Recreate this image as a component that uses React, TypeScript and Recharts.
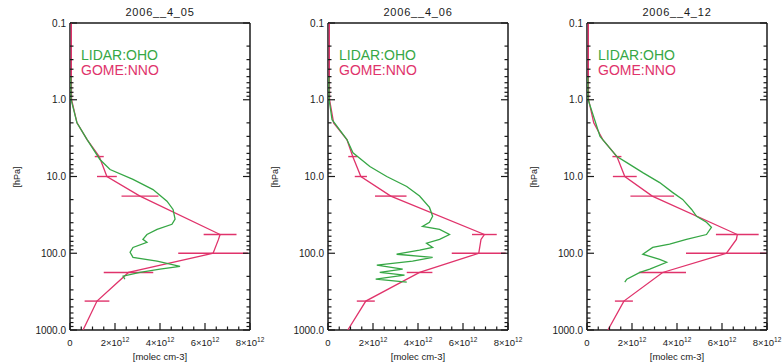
import { ScatterChart, Scatter, XAxis, YAxis, ErrorBar } from 'recharts';

const FONT = '"Liberation Sans", Arial, sans-serif';
const RED = '#e0336b';
const GREEN = '#36a745';
const INK = '#1a1a1a';

const TITLES = ['2006__4_05', '2006__4_06', '2006__4_12'];
const LEGEND_LIDAR = 'LIDAR:OHO';
const LEGEND_GOME = 'GOME:NNO';

// number density in units of 10^12 molec cm-3, pressure in hPa
const X_MAJOR = [0, 2, 4, 6, 8];
const X_MINOR = [0.5, 1, 1.5, 2.5, 3, 3.5, 4.5, 5, 5.5, 6.5, 7, 7.5];
const Y_MAJOR = [0.1, 1, 10, 100, 1000];
const Y_MINOR = [0.1, 1, 10, 100].flatMap((d) => [2, 3, 4, 5, 6, 7, 8, 9].map((k) => +(d * k).toPrecision(3)));

const GOME_P = [0.1, 0.5, 1.0, 2.0, 3.3, 5.5, 10, 18, 57, 66, 100, 178, 420, 1000];

const GOME_0405 = [0.06, 0.06, 0.07, 0.31, 0.76, 1.3, 1.64, 3.11, 6.67, 6.6, 6.36, 2.6, 1.2, 0.58];
const GOME_0405_ERR = [0, 0, 0, 0, 0, 0.2, 0.44, 0.82, 0.73, 0, 1.55, 1.1, 0.55, 0];
const GOME_0406 = [0.06, 0.06, 0.07, 0.25, 0.84, 1.1, 1.46, 2.79, 6.95, 6.8, 6.7, 4.07, 1.68, 0.88];
const GOME_0406_ERR = [0, 0, 0, 0, 0, 0.2, 0.27, 0.7, 0.55, 0, 1.2, 0.57, 0.4, 0];
const GOME_0412 = [0.06, 0.06, 0.07, 0.3, 0.7, 1.33, 1.68, 2.9, 6.68, 6.64, 6.2, 3.36, 1.64, 0.93];
const GOME_0412_ERR = [0, 0, 0, 0, 0, 0.2, 0.53, 0.97, 0.95, 0, 1.8, 1.04, 0.4, 0];

const LIDAR_0405_P = [0.5, 1.0, 2.0, 3.3, 6.0, 8.1, 10.9, 14.8, 21, 26.9, 36, 42, 49, 57, 66, 72, 84, 97, 113, 127, 148, 161, 177, 199, 218];
const LIDAR_0405 = [0.04, 0.05, 0.31, 0.76, 1.33, 1.78, 2.8, 3.69, 4.31, 4.58, 4.67, 4.53, 3.87, 3.42, 3.24, 3.42, 2.8, 2.67, 2.8, 3.87, 4.89, 4.0, 3.11, 2.36, 2.44];

const LIDAR_0406_P = [0.5, 1.0, 1.82, 3.3, 4.9, 7.4, 10, 13.5, 18, 25.3, 33, 39.5, 44.6, 49, 57, 66, 74, 84, 91, 103, 113, 127, 143, 161, 177, 193, 218, 238];
const LIDAR_0406 = [0.04, 0.05, 0.18, 0.84, 1.11, 1.86, 2.61, 3.5, 4.07, 4.51, 4.65, 4.51, 4.2, 4.96, 5.4, 4.96, 4.38, 4.65, 4.07, 3.05, 4.65, 3.76, 2.17, 3.32, 2.3, 3.4, 2.12, 3.5];

const LIDAR_0412_P = [0.5, 1.0, 3.0, 5.5, 6.6, 8.9, 12, 16.1, 19.9, 26.9, 33, 39.5, 46, 57, 66, 76, 84, 103, 120, 131, 161, 178, 218, 238];
const LIDAR_0412 = [0.04, 0.05, 0.58, 1.33, 1.77, 2.48, 3.23, 3.8, 4.25, 4.65, 4.87, 5.31, 5.53, 5.31, 4.42, 3.67, 2.92, 2.48, 3.23, 3.54, 2.79, 2.35, 1.77, 1.68];

const PANEL_LEFT = [0, 258, 517];

const X_TICKS = [...X_MAJOR, ...X_MINOR].sort((a, b) => a - b);
const Y_TICKS = [...Y_MAJOR, ...Y_MINOR].sort((a, b) => a - b);

const NoDot = () => <g />;

function LeftTick({ x, y, payload }: any) {
  const major = Y_MAJOR.includes(payload.value);
  return (
    <g>
      <line x1={x} x2={x + (major ? 7 : 3.5)} y1={y} y2={y} stroke={INK} strokeWidth={1.2} />
      {major && (
        <text x={x - 4} y={y + 3.5} textAnchor="end" fontSize={10} fill={INK} fontFamily={FONT}>
          {payload.value.toFixed(1)}
        </text>
      )}
    </g>
  );
}

function RightTick({ x, y, payload }: any) {
  const major = Y_MAJOR.includes(payload.value);
  return <line x1={x} x2={x - (major ? 7 : 3.5)} y1={y} y2={y} stroke={INK} strokeWidth={1.2} />;
}

function BottomTick({ x, y, payload }: any) {
  const v = payload.value;
  const major = X_MAJOR.includes(v);
  return (
    <g>
      <line x1={x} x2={x} y1={y} y2={y - (major ? 7 : 3.5)} stroke={INK} strokeWidth={1.2} />
      {major && (
        <text x={x} y={y + 16} textAnchor="middle" fontSize={9.5} fill={INK} fontFamily={FONT}>
          {v === 0 ? '0' : (
            <>
              {v}×10
              <tspan dy={-4} fontSize={6.5}>12</tspan>
            </>
          )}
        </text>
      )}
    </g>
  );
}

function TopTick({ x, y, payload }: any) {
  const major = X_MAJOR.includes(payload.value);
  return <line x1={x} x2={x} y1={y} y2={y + (major ? 7 : 3.5)} stroke={INK} strokeWidth={1.2} />;
}

type PanelProps = {
  title: string;
  left: number;
  gome: number[];
  gomeErr: number[];
  lidarP: number[];
  lidar: number[];
};

function Panel({ title, left, gome, gomeErr, lidarP, lidar }: PanelProps) {
  const gomeRows = GOME_P.map((p, i) => ({ p, v: gome[i], err: gomeErr[i] }));
  const lidarRows = lidarP.map((p, i) => ({ p, v: lidar[i] }));
  const axisLine = { stroke: INK, strokeWidth: 1.5 };

  return (
    <div style={{ position: 'absolute', left, top: 0, width: 267, height: 364, fontFamily: FONT }}>
      <div style={{ position: 'absolute', left: 70, top: 6, width: 180, textAlign: 'center', fontSize: 11, letterSpacing: 0.8, color: INK }}>
        {title}
      </div>
      <div
        style={{
          position: 'absolute',
          left: 17,
          top: 177,
          transform: 'translate(-50%, -50%) rotate(-90deg)',
          fontSize: 9,
          color: INK,
          whiteSpace: 'nowrap',
        }}
      >
        [hPa]
      </div>
      <div style={{ position: 'absolute', left: 81, top: 48, fontSize: 14, lineHeight: '15px' }}>
        <div style={{ color: GREEN }}>{LEGEND_LIDAR}</div>
        <div style={{ color: RED }}>{LEGEND_GOME}</div>
      </div>
      <div style={{ position: 'absolute', left: 70, top: 351, width: 180, textAlign: 'center', fontSize: 9.5, color: INK }}>
        [molec cm-3]
      </div>
      <ScatterChart width={267} height={364} margin={{ top: 22, right: 16, bottom: 0, left: 0 }}>
        <XAxis
          xAxisId="b"
          type="number"
          dataKey="v"
          domain={[0, 8]}
          allowDataOverflow
          ticks={X_TICKS}
          interval={0}
          height={34}
          tickSize={0}
          tickMargin={0}
          tickLine={false}
          axisLine={axisLine}
          tick={(props: any) => <BottomTick {...props} />}
        />
        <XAxis
          xAxisId="t"
          orientation="top"
          type="number"
          domain={[0, 8]}
          allowDataOverflow
          ticks={X_TICKS}
          interval={0}
          height={1}
          tickSize={0}
          tickMargin={0}
          tickLine={false}
          axisLine={axisLine}
          tick={(props: any) => <TopTick {...props} />}
        />
        <YAxis
          yAxisId="l"
          type="number"
          dataKey="p"
          scale="log"
          domain={[0.1, 1000]}
          allowDataOverflow
          reversed
          ticks={Y_TICKS}
          interval={0}
          width={70}
          tickSize={0}
          tickMargin={0}
          tickLine={false}
          axisLine={axisLine}
          tick={(props: any) => <LeftTick {...props} />}
        />
        <YAxis
          yAxisId="r"
          orientation="right"
          type="number"
          scale="log"
          domain={[0.1, 1000]}
          allowDataOverflow
          reversed
          ticks={Y_TICKS}
          interval={0}
          width={1}
          tickSize={0}
          tickMargin={0}
          tickLine={false}
          axisLine={axisLine}
          tick={(props: any) => <RightTick {...props} />}
        />
        <Scatter
          xAxisId="b"
          yAxisId="l"
          data={gomeRows}
          line={{ stroke: RED, strokeWidth: 1.3 }}
          lineType="joint"
          shape={NoDot}
          isAnimationActive={false}
        >
          <ErrorBar dataKey="err" direction="x" width={0} stroke={RED} strokeWidth={1.4} isAnimationActive={false} />
        </Scatter>
        <Scatter
          xAxisId="b"
          yAxisId="l"
          data={lidarRows}
          line={{ stroke: GREEN, strokeWidth: 1.3 }}
          lineType="joint"
          shape={NoDot}
          isAnimationActive={false}
        />
      </ScatterChart>
    </div>
  );
}

export default function App() {
  return (
    <div style={{ position: 'absolute', left: 0, top: 0, width: 784, height: 364, background: '#fff', overflow: 'hidden' }}>
      <Panel title={TITLES[0]} left={PANEL_LEFT[0]} gome={GOME_0405} gomeErr={GOME_0405_ERR} lidarP={LIDAR_0405_P} lidar={LIDAR_0405} />
      <Panel title={TITLES[1]} left={PANEL_LEFT[1]} gome={GOME_0406} gomeErr={GOME_0406_ERR} lidarP={LIDAR_0406_P} lidar={LIDAR_0406} />
      <Panel title={TITLES[2]} left={PANEL_LEFT[2]} gome={GOME_0412} gomeErr={GOME_0412_ERR} lidarP={LIDAR_0412_P} lidar={LIDAR_0412} />
    </div>
  );
}
